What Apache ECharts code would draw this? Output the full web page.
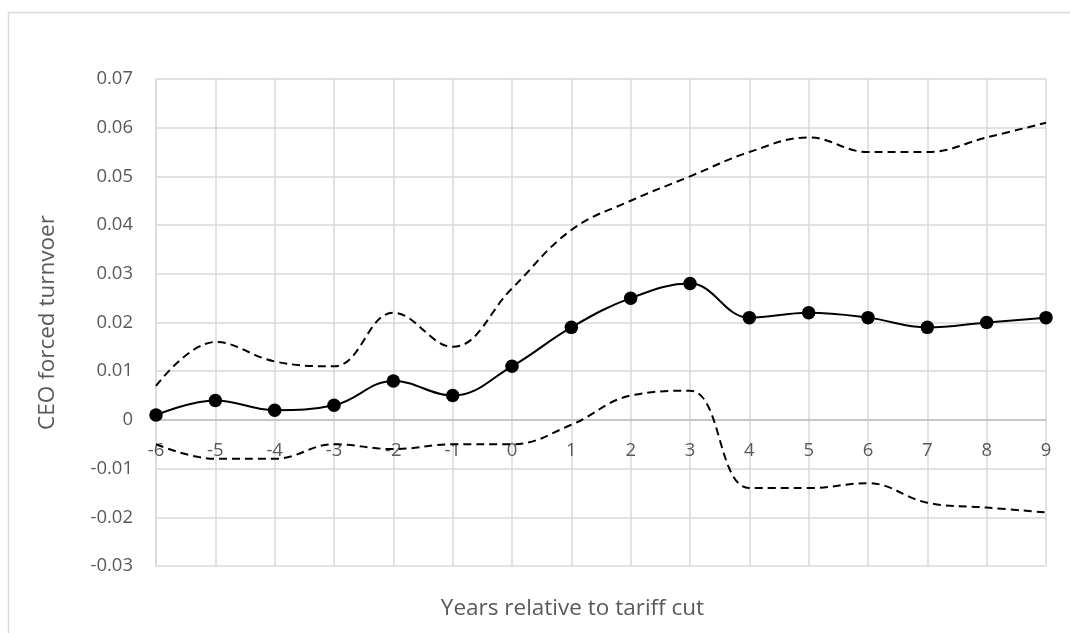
<!DOCTYPE html>
<html>
<head>
<meta charset="utf-8">
<style>
  html, body { margin: 0; padding: 0; background: #ffffff; }
  #chart { width: 1070px; height: 633px; }
</style>
<script src="https://cdn.jsdelivr.net/npm/echarts@6/dist/echarts.min.js"></script>
</head>
<body>
<div id="chart"></div>
<script>
// Years relative to the tariff cut
const years = [-6, -5, -4, -3, -2, -1, 0, 1, 2, 3, 4, 5, 6, 7, 8, 9];

// Point estimates of CEO forced turnover
const estimate = [0.001, 0.004, 0.002, 0.003, 0.008, 0.005, 0.011, 0.019, 0.025, 0.028, 0.021, 0.022, 0.021, 0.019, 0.020, 0.021];

// Upper and lower confidence bounds
const upperBound = [0.007, 0.016, 0.012, 0.011, 0.022, 0.015, 0.027, 0.039, 0.045, 0.050, 0.055, 0.058, 0.055, 0.055, 0.058, 0.061];
const lowerBound = [-0.005, -0.008, -0.008, -0.005, -0.006, -0.005, -0.005, -0.001, 0.005, 0.006, -0.014, -0.014, -0.013, -0.017, -0.018, -0.019];

const yMin = -0.03, yMax = 0.07, yStep = 0.01;

const textColor = '#595959';
const gridColor = '#d9d9d9';
const fontFamily = '"Open Sans", "Noto Sans", sans-serif';

// Plot rectangle
const plotLeft = 156, plotTop = 79, plotWidth = 890, plotHeight = 487;

const chart = echarts.init(document.getElementById('chart'), null, { renderer: 'canvas' });

// The category axis sits on the zero line of the value axis
const zeroOffset = -plotHeight * (0 - yMin) / (yMax - yMin);

const dashedSeries = (name, data) => ({
  name: name,
  type: 'line',
  data: data,
  smooth: 0.4,
  symbol: 'none',
  lineStyle: { color: '#000000', width: 2, type: [8, 5] },
  z: 3
});

chart.setOption({
  animation: false,
  backgroundColor: '#ffffff',
  graphic: [{
    type: 'rect',
    shape: { x: 8.5, y: 12.5, width: 1070, height: 640 },
    style: { fill: 'none', stroke: gridColor, lineWidth: 1.5 },
    silent: true,
    z: -1
  }],
  grid: {
    left: plotLeft, top: plotTop, width: plotWidth, height: plotHeight,
    containLabel: false, outerBoundsMode: 'none'
  },
  xAxis: {
    type: 'category',
    data: years,
    boundaryGap: false,
    offset: zeroOffset,
    name: 'Years relative to tariff cut',
    nameLocation: 'middle',
    nameGap: 177,
    nameTextStyle: {
      color: textColor, fontSize: 22.5, fontFamily: fontFamily,
      padding: [0, 57, 0, 0]
    },
    axisLine: { onZero: false, lineStyle: { color: '#bfbfbf', width: 1.5 } },
    axisTick: { show: false },
    axisLabel: { color: textColor, fontSize: 18.5, fontFamily: fontFamily, margin: 21, interval: 0 },
    splitLine: { show: true, interval: 0, lineStyle: { color: gridColor, width: 1.5 } }
  },
  yAxis: {
    type: 'value',
    min: yMin,
    max: yMax,
    interval: yStep,
    name: 'CEO forced turnvoer',
    nameLocation: 'middle',
    nameGap: 97,
    nameRotate: 90,
    nameTextStyle: { color: textColor, fontSize: 22.5, fontFamily: fontFamily },
    axisLine: { show: true, lineStyle: { color: gridColor, width: 1.5 } },
    axisTick: { show: false },
    axisLabel: {
      color: textColor, fontSize: 18.5, fontFamily: fontFamily, margin: 23,
      formatter: v => String(Math.round(v * 100) / 100)
    },
    splitLine: { show: true, lineStyle: { color: gridColor, width: 1.5 } }
  },
  series: [
    dashedSeries('Upper bound', upperBound),
    dashedSeries('Lower bound', lowerBound),
    {
      name: 'Estimate',
      type: 'line',
      data: estimate,
      smooth: 0.4,
      symbol: 'circle',
      symbolSize: 13.5,
      itemStyle: { color: '#000000' },
      lineStyle: { color: '#000000', width: 2 },
      z: 4
    }
  ]
});
</script>
</body>
</html>
